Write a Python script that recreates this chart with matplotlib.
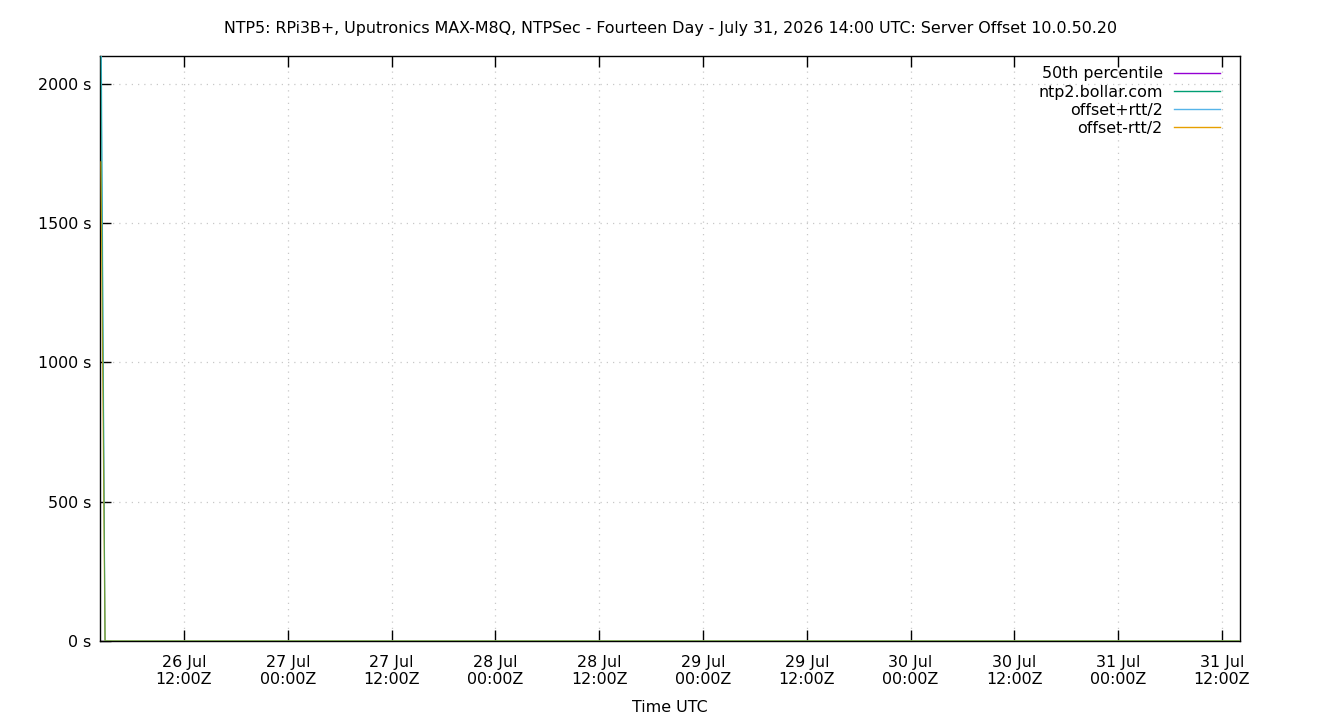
import matplotlib
matplotlib.use("Agg")
import matplotlib.pyplot as plt
import matplotlib.ticker as mticker
import pandas as pd

plt.rcParams['font.family'] = ['DejaVu Sans']

title = "NTP5: RPi3B+, Uputronics MAX-M8Q, NTPSec - Fourteen Day - July 31, 2026 14:00 UTC: Server Offset 10.0.50.20"

times = ["2026-07-26 02:24", "2026-07-26 02:52", "2026-07-26 12:00", "2026-07-27 00:00",
         "2026-07-28 00:00", "2026-07-29 00:00", "2026-07-30 00:00", "2026-07-31 00:00",
         "2026-07-31 14:00"]
offset = [2100, 0.0, 0.0, 0.0, 0.0, 0.0, 0.0, 0.0, 0.0]
offset_plus = [2300, 0.0, 0.0, 0.0, 0.0, 0.0, 0.0, 0.0, 0.0]
offset_minus = [1720, 0.0, 0.0, 0.0, 0.0, 0.0, 0.0, 0.0, 0.0]
p50 = 0.0

t = pd.to_datetime(times)

fs = 11.4
fig = plt.figure(figsize=(13.4, 7.2), dpi=100)
ax = fig.add_axes([100/1340, 79/720, 1140/1340, 585/720])

ax.axhline(p50, color="#9400d3", lw=0.8, label="50th percentile", zorder=2)
ax.plot(t, offset, color="#009e73", lw=0.8, alpha=0.6, label="ntp2.bollar.com", zorder=5)
ax.plot(t, offset_plus, color="#56b4e9", lw=0.8, label="offset+rtt/2", zorder=3)
ax.plot(t, offset_minus, color="#e69f00", lw=0.9, label="offset-rtt/2", zorder=4)

ax.set_ylim(0, 2100)
ax.set_xlim(pd.Timestamp("2026-07-26 02:17"), pd.Timestamp("2026-07-31 14:05"))

ax.yaxis.set_major_locator(mticker.MultipleLocator(500))
ax.yaxis.set_major_formatter(mticker.FuncFormatter(lambda v, p: f"{v:.0f} s"))

ticks = pd.date_range("2026-07-26 12:00", "2026-07-31 12:00", freq="12h")
ax.set_xticks(ticks)
ax.set_xticklabels([d.strftime("%d %b\n%H:%MZ") for d in ticks])

ax.tick_params(axis="x", direction="in", length=8, width=1, top=True,
               labelsize=fs, pad=10, colors="black")
ax.tick_params(axis="y", direction="in", length=8, width=1, right=False,
               labelsize=fs, pad=6, colors="black")
ax.grid(True, color="#c8c8c8", linestyle=(0, (1, 4)), lw=0.9)
for s in ax.spines.values():
    s.set_linewidth(1)

ax.set_xlabel("Time UTC", fontsize=fs, labelpad=9)
fig.text(0.5, 1 - 29/720, title, ha="center", va="center", fontsize=fs)

leg = ax.legend(loc="upper right", frameon=False, markerfirst=False,
                fontsize=fs, handlelength=2.95, borderaxespad=0.2,
                bbox_to_anchor=(1 - 10/1140, 1 - 1/585),
                labelspacing=0.2, handletextpad=0.7)
for h in leg.legend_handles:
    h.set_alpha(1)
    h.set_linewidth(1)

fig.savefig("out.png", dpi=100)
